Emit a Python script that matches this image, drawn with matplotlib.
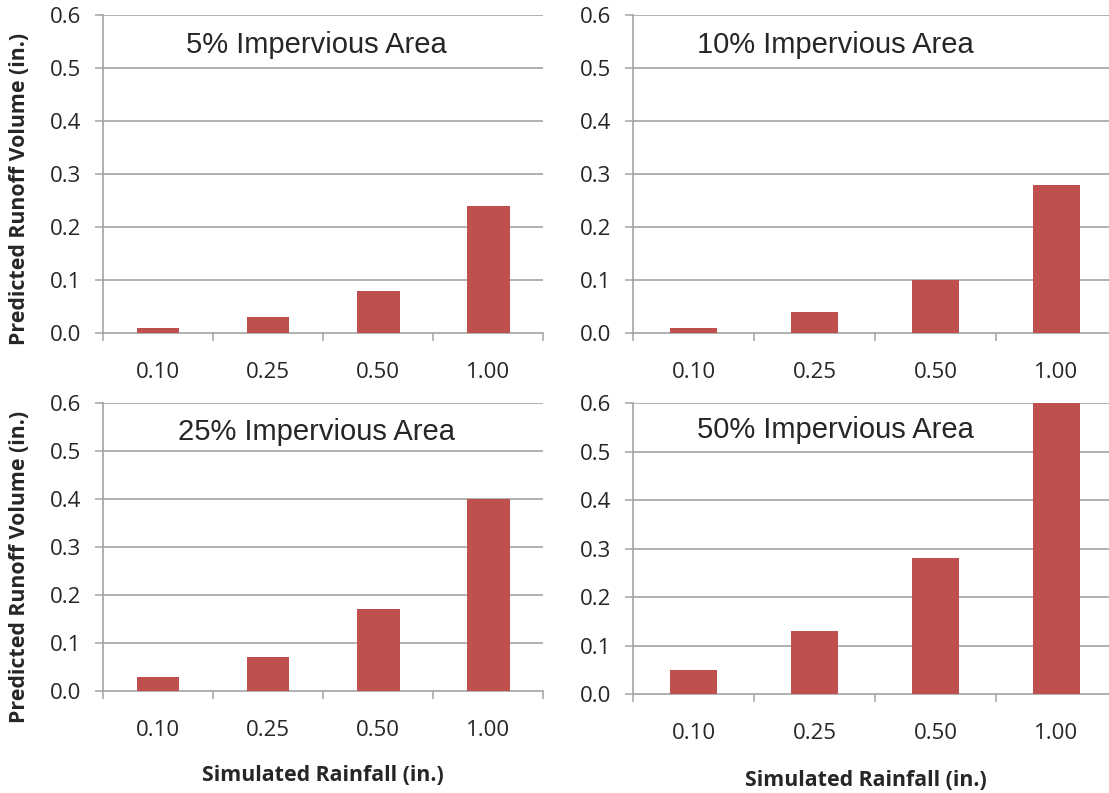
import matplotlib.pyplot as plt
import numpy as np

rainfall = ["0.10", "0.25", "0.50", "1.00"]
titles = ["5% Impervious Area", "10% Impervious Area",
          "25% Impervious Area", "50% Impervious Area"]
runoff_5 = [0.01, 0.03, 0.08, 0.24]
runoff_10 = [0.01, 0.04, 0.10, 0.28]
runoff_25 = [0.03, 0.07, 0.17, 0.40]
runoff_50 = [0.05, 0.13, 0.28, 0.60]
yticks = [0.0, 0.1, 0.2, 0.3, 0.4, 0.5, 0.6]

bar_color = "#C0504D"
grid_color = "#A3A3A3"
text_color = "#262626"
tick_font = "Open Sans"
title_font = "Liberation Sans"

fig = plt.figure(figsize=(11.09, 7.93), dpi=100)

# left, bottom, width, height in figure fractions (right panels run off the edge)
boxes = [
    [0.0929, 0.5801, 0.3968, 0.4010],
    [0.5708, 0.5801, 0.4364, 0.4010],
    [0.0929, 0.1286, 0.3968, 0.3632],
    [0.5708, 0.1248, 0.4364, 0.3670],
]
title_pos = [(0.484, 0.907), (0.419, 0.907), (0.484, 0.900), (0.419, 0.907)]
ylabel_y = [0.453, None, 0.43, None]
xlabel_pos = [None, None, (0.50, -0.258), (0.481, -0.262)]
series = [runoff_5, runoff_10, runoff_25, runoff_50]

for k in range(4):
    ax = fig.add_axes(boxes[k])
    x = np.arange(len(rainfall))
    ax.bar(x, series[k], width=0.39, color=bar_color, zorder=3)
    ax.set_xlim(-0.5, 3.5)
    ax.set_ylim(0, 0.6)
    ax.set_yticks(yticks)
    ax.set_yticklabels([f"{v:.1f}" for v in yticks], fontsize=16,
                       family=tick_font, color=text_color)
    ax.set_xticks(x)
    ax.set_xticklabels(rainfall, fontsize=16, family=tick_font, color=text_color)
    ax.tick_params(axis="x", length=0, pad=21)
    ax.set_xticks(np.arange(-0.5, 4.0, 1.0), minor=True)
    ax.tick_params(axis="x", which="minor", length=6, width=1.1,
                   color=grid_color, direction="out")
    ax.tick_params(axis="y", length=6, width=1.1, color=grid_color, pad=10)
    for yv in yticks[1:]:
        ax.axhline(yv, color=grid_color, lw=1.2, zorder=1)
    for s in ["top", "right"]:
        ax.spines[s].set_visible(False)
    for s in ["left", "bottom"]:
        ax.spines[s].set_color(grid_color)
        ax.spines[s].set_linewidth(1.2)
    ax.text(title_pos[k][0], title_pos[k][1], titles[k], transform=ax.transAxes,
            ha="center", va="center", fontsize=21, family=title_font,
            color=text_color)
    if ylabel_y[k] is not None:
        ax.set_ylabel("Predicted Runoff Volume (in.)", fontsize=15.4,
                      family=tick_font, fontweight="bold", color=text_color)
        ax.yaxis.set_label_coords(-0.166, ylabel_y[k])
    if xlabel_pos[k] is not None:
        ax.set_xlabel("Simulated Rainfall (in.)", fontsize=15.4,
                      family=tick_font, fontweight="bold", color=text_color)
        ax.xaxis.set_label_coords(*xlabel_pos[k])

fig.savefig("out.png", dpi=100)
